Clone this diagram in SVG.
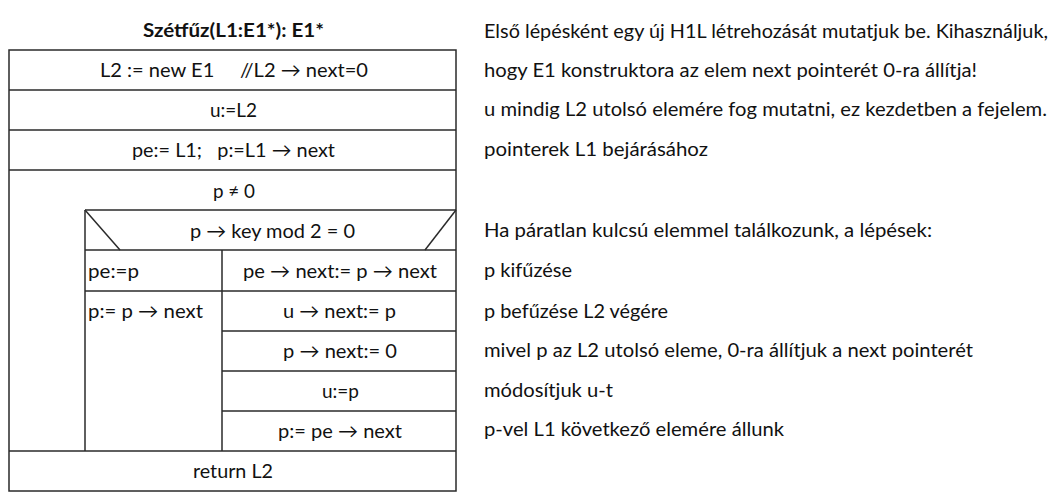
<svg xmlns="http://www.w3.org/2000/svg" width="1055" height="504" viewBox="0 0 1055 504">
<style>
.bg{fill:#fff}
.ln{stroke:#2a2a2a;stroke-width:1.5;fill:none}
.t{font-family:"Lato","Open Sans",sans-serif;font-size:19.5px;fill:#111}
.c{text-anchor:middle}
.ttl{font-family:"Lato","Open Sans",sans-serif;font-size:19px;font-weight:bold;fill:#111;text-anchor:middle}
.n{font-family:"Lato","Open Sans",sans-serif;font-size:19.5px;fill:#111}
</style>
<rect class="bg" x="0" y="0" width="1055" height="504"/>
<g id="title"><text class="ttl" x="233.5" y="37" textLength="181" lengthAdjust="spacingAndGlyphs">Szétfűz(L1:E1*): E1*</text></g>
<g id="connectors">
<rect class="ln" x="9" y="50" width="447" height="441"/>
<line class="ln" x1="9" y1="90" x2="456" y2="90"/>
<line class="ln" x1="9" y1="130" x2="456" y2="130"/>
<line class="ln" x1="9" y1="170" x2="456" y2="170"/>
<line class="ln" x1="85" y1="210" x2="456" y2="210"/>
<line class="ln" x1="85" y1="210" x2="85" y2="451"/>
<line class="ln" x1="85" y1="250" x2="456" y2="250"/>
<line class="ln" x1="85" y1="210" x2="120" y2="250"/>
<line class="ln" x1="456" y1="210" x2="425" y2="250"/>
<line class="ln" x1="222" y1="250" x2="222" y2="451"/>
<line class="ln" x1="85" y1="291" x2="456" y2="291"/>
<line class="ln" x1="222" y1="331" x2="456" y2="331"/>
<line class="ln" x1="222" y1="371" x2="456" y2="371"/>
<line class="ln" x1="222" y1="411" x2="456" y2="411"/>
<line class="ln" x1="9" y1="451" x2="456" y2="451"/>
</g>
<g id="s1"><text class="t c" x="234" y="77" textLength="268" lengthAdjust="spacingAndGlyphs" xml:space="preserve">L2 := new E1     //L2 → next=0</text></g>
<g id="s2"><text class="t c" x="233.5" y="117" textLength="47" lengthAdjust="spacingAndGlyphs">u:=L2</text></g>
<g id="s3"><text class="t c" x="233.5" y="157" textLength="203" lengthAdjust="spacingAndGlyphs" xml:space="preserve">pe:= L1;   p:=L1 → next</text></g>
<g id="loop"><text class="t c" x="234" y="198" textLength="42" lengthAdjust="spacingAndGlyphs">p ≠ 0</text></g>
<g id="cond"><text class="t c" x="272.5" y="238" textLength="165" lengthAdjust="spacingAndGlyphs">p → key mod 2 = 0</text></g>
<g id="e1"><text class="t" x="88" y="278" textLength="51" lengthAdjust="spacingAndGlyphs">pe:=p</text></g>
<g id="e2"><text class="t" x="88" y="318" textLength="115" lengthAdjust="spacingAndGlyphs">p:= p → next</text></g>
<g id="b1"><text class="t c" x="340" y="278" textLength="194" lengthAdjust="spacingAndGlyphs">pe → next:= p → next</text></g>
<g id="b2"><text class="t c" x="339.5" y="318" textLength="113" lengthAdjust="spacingAndGlyphs">u → next:= p</text></g>
<g id="b3"><text class="t c" x="340" y="358" textLength="114" lengthAdjust="spacingAndGlyphs">p → next:= 0</text></g>
<g id="b4"><text class="t c" x="340.5" y="398" textLength="37" lengthAdjust="spacingAndGlyphs">u:=p</text></g>
<g id="b5"><text class="t c" x="340" y="438" textLength="124" lengthAdjust="spacingAndGlyphs">p:= pe → next</text></g>
<g id="ret"><text class="t c" x="233" y="478" textLength="80" lengthAdjust="spacingAndGlyphs">return L2</text></g>
<g id="notes">
<text class="n" x="484" y="38" textLength="564" lengthAdjust="spacingAndGlyphs">Első lépésként egy új H1L létrehozását mutatjuk be. Kihasználjuk,</text>
<text class="n" x="484" y="77" textLength="493" lengthAdjust="spacingAndGlyphs">hogy E1 konstruktora az elem next pointerét 0-ra állítja!</text>
<text class="n" x="484" y="116" textLength="563" lengthAdjust="spacingAndGlyphs">u mindig L2 utolsó elemére fog mutatni, ez kezdetben a fejelem.</text>
<text class="n" x="484" y="156" textLength="224" lengthAdjust="spacingAndGlyphs">pointerek L1 bejárásához</text>
<text class="n" x="484" y="237" textLength="448" lengthAdjust="spacingAndGlyphs">Ha páratlan kulcsú elemmel találkozunk, a lépések:</text>
<text class="n" x="484" y="277" textLength="88" lengthAdjust="spacingAndGlyphs">p kifűzése</text>
<text class="n" x="484" y="318" textLength="184" lengthAdjust="spacingAndGlyphs">p befűzése L2 végére</text>
<text class="n" x="484" y="357" textLength="489" lengthAdjust="spacingAndGlyphs">mivel p az L2 utolsó eleme, 0-ra állítjuk a next pointerét</text>
<text class="n" x="484" y="397" textLength="129" lengthAdjust="spacingAndGlyphs">módosítjuk u-t</text>
<text class="n" x="484" y="436" textLength="300" lengthAdjust="spacingAndGlyphs">p-vel L1 következő elemére állunk</text>
</g>
</svg>
